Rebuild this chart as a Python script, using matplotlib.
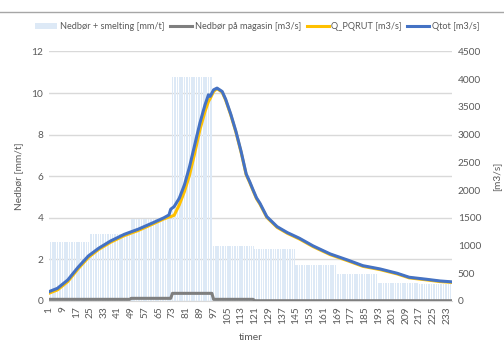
import matplotlib.pyplot as plt
import numpy as np

# nedbør + smelting, mm/t, constant within each 24-hour block
block_len = 24
n_hours = 236
nedbor_blocks = [2.85, 3.22, 3.93, 10.75, 2.65, 2.5, 1.73, 1.3, 0.88, 0.82]
# nedbør på magasin, m3/s, per 24-hour block
magasin_blocks = [30, 30, 48, 138, 30, 5, 5, 5, 5, 5]

# discharge (hour, m3/s)
q_hours = [1, 6, 12, 18, 24, 30, 37, 45, 53, 61, 68, 71, 72, 74, 77, 80, 83, 86,
           89, 92, 94, 95, 97, 99, 102, 104, 107, 110, 113, 116, 118, 120, 122,
           124, 128, 134, 140, 147, 155, 165, 175, 184, 194, 204, 211, 221, 229, 236]
qtot = [168, 229, 379, 608, 812, 951, 1083, 1203, 1294, 1402, 1500, 1552, 1655,
        1702, 1853, 2094, 2424, 2816, 3207, 3538, 3718, 3690, 3808, 3839, 3778,
        3640, 3370, 3060, 2700, 2290, 2154, 2004, 1860, 1763, 1522, 1341, 1233,
        1132, 993, 848, 740, 637, 578, 500, 428, 392, 361, 345]
q_pqrut = [140, 200, 350, 580, 785, 930, 1060, 1180, 1270, 1380, 1480, 1515, 1522,
           1545, 1733, 1973, 2274, 2666, 3087, 3417, 3598, 3650, 3778, 3830, 3765,
           3625, 3355, 3045, 2685, 2275, 2140, 1990, 1845, 1748, 1508, 1328, 1220,
           1118, 980, 835, 727, 625, 566, 488, 417, 381, 350, 335]

hours = np.arange(1, n_hours + 1)
nedbor = np.repeat(nedbor_blocks, block_len)[:n_hours]
magasin = np.repeat(magasin_blocks, block_len)[:n_hours]

plt.rcParams['font.family'] = ['Lato', 'DejaVu Sans']
txt = '#595959'
grid = '#d9d9d9'

fig = plt.figure(figsize=(5.04, 3.5), dpi=100)
ax = fig.add_axes([0.097, 0.14, 0.800, 0.713])
ax2 = ax.twinx()

ax.bar(hours, nedbor, width=0.65, color='#dde9f6', linewidth=0, zorder=2,
       label='Nedbør + smelting [mm/t]')
ax2.plot(hours, magasin, color='#7f7f7f', lw=2.2, label='Nedbør på magasin [m3/s]')
ax2.plot(q_hours, q_pqrut, color='#ffc000', lw=2.2, label='Q_PQRUT [m3/s]')
ax2.plot(q_hours, qtot, color='#4472c4', lw=2.2, label='Qtot [m3/s]')

ax.set_xlim(1, n_hours)
ax.set_ylim(0, 12)
ax.set_yticks(range(0, 13, 2))
ax2.set_ylim(0, 4500)
ax2.set_yticks(range(0, 4501, 500))
ax.set_xticks(range(1, n_hours + 1, 8))
ax.set_xticklabels([str(h) for h in range(1, n_hours + 1, 8)], rotation=90)

ax.grid(axis='y', color=grid, lw=1, zorder=0)
ax.set_axisbelow(True)
for a in (ax, ax2):
    for s in a.spines.values():
        s.set_visible(False)
    a.tick_params(length=0, labelsize=7.3, colors=txt, pad=4)
ax.spines['bottom'].set_visible(True)
ax.spines['bottom'].set_color(grid)

ax.set_xlabel('timer', color=txt, fontsize=7.5, labelpad=6)
ax.set_ylabel('Nedbør [mm/t]', color=txt, fontsize=7.3, labelpad=6)
ax2.set_ylabel('[m3/s]', color=txt, fontsize=7.3, labelpad=8)

h1, l1 = ax.get_legend_handles_labels()
h2, l2 = ax2.get_legend_handles_labels()
leg = fig.legend(h1 + h2, l1 + l2, loc='center', bbox_to_anchor=(0.511, 0.923),
                 ncol=4, frameon=False, fontsize=6.6, handlelength=2.4,
                 handleheight=0.6, handletextpad=0.3, columnspacing=0.6)
for t in leg.get_texts():
    t.set_color(txt)

fig.add_artist(plt.Line2D([0, 1], [1 - 12 / 350, 1 - 12 / 350], color='#a6a6a6', lw=1))

fig.savefig('out.png', dpi=100)
